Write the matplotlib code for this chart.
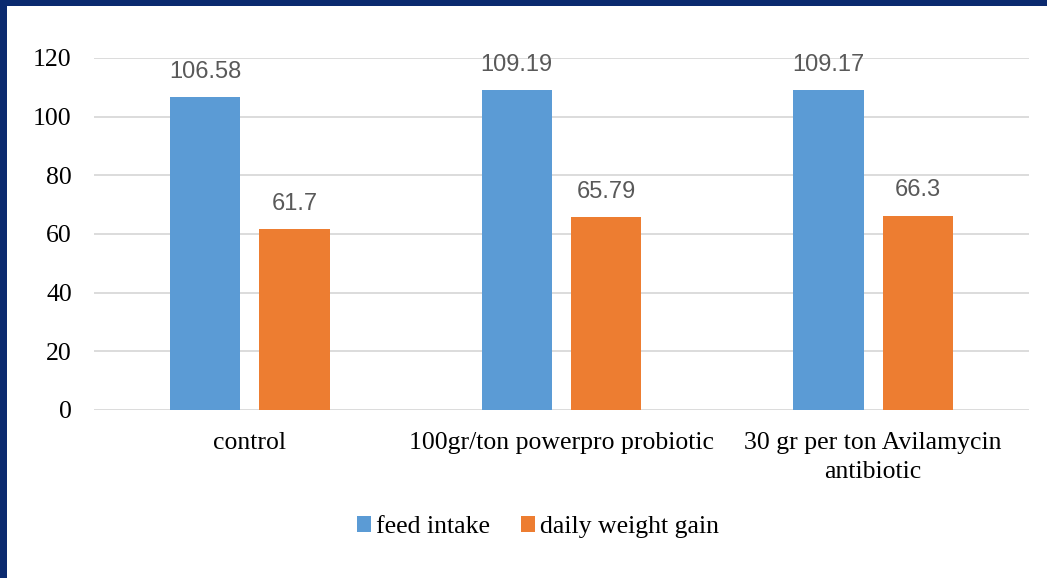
import matplotlib
matplotlib.use("Agg")
import matplotlib.pyplot as plt
import matplotlib.patches as mpatches
import numpy as np

# data
categories = ["control", "100gr/ton powerpro probiotic", "30 gr per ton Avilamycin\nantibiotic"]
feed_intake = [106.58, 109.19, 109.17]
daily_gain = [61.7, 65.79, 66.3]
feed_labels = ["106.58", "109.19", "109.17"]
gain_labels = ["61.7", "65.79", "66.3"]
series_names = ["feed intake", "daily weight gain"]
yticks = [0, 20, 40, 60, 80, 100, 120]

blue = "#5b9bd5"
orange = "#ed7d31"
grid_col = "#d9d9d9"
label_col = "#595959"

fig = plt.figure(figsize=(10.47, 5.78), dpi=100)
fig.patch.set_facecolor("white")

# dark blue frame on top and left
fig.patches.append(mpatches.Rectangle((0, 1 - 6 / 578), 1, 6 / 578, transform=fig.transFigure,
                                      facecolor="#0b2a6f", edgecolor="none", zorder=0))
fig.patches.append(mpatches.Rectangle((0, 0), 7 / 1047, 1, transform=fig.transFigure,
                                      facecolor="#0b2a6f", edgecolor="none", zorder=0))

ax = fig.add_axes([94 / 1047, 1 - 410 / 578, (1029 - 94) / 1047, (410 - 58) / 578])

x = np.arange(len(categories))
w = 0.225
off = 0.1435
b1 = ax.bar(x - off, feed_intake, w, color=blue, zorder=3, label=series_names[0])
b2 = ax.bar(x + off, daily_gain, w, color=orange, zorder=3, label=series_names[1])

for bars, labs in ((b1, feed_labels), (b2, gain_labels)):
    for r, t in zip(bars, labs):
        ax.text(r.get_x() + r.get_width() / 2, r.get_height() + 4.8, t, ha="center", va="bottom",
                fontsize=17, color=label_col, family="Liberation Sans", clip_on=False)

ax.set_xlim(-0.5, 2.5)
ax.set_ylim(0, 120)
ax.set_yticks(yticks)
ax.yaxis.grid(True, color=grid_col, linewidth=1.3, zorder=0)
ax.set_axisbelow(True)
for s in ax.spines.values():
    s.set_visible(False)
ax.tick_params(length=0)
ax.tick_params(axis="y", pad=16)
ax.tick_params(axis="x", pad=16)
ax.set_xticks(x)
ax.set_xticklabels(categories, family="Liberation Serif", fontsize=18.5, linespacing=1.4)
for t in ax.get_yticklabels():
    t.set_family("Liberation Serif")
    t.set_fontsize(18.5)

leg = fig.legend(handles=[b1, b2], labels=series_names, loc="center", bbox_to_anchor=(538 / 1047, 1 - 527 / 578),
                 ncol=2, frameon=False, prop={"family": "Liberation Serif", "size": 18.5},
                 handlelength=0.55, handleheight=0.55, handletextpad=0.2, columnspacing=1.2)

fig.savefig("out.png", dpi=100)
